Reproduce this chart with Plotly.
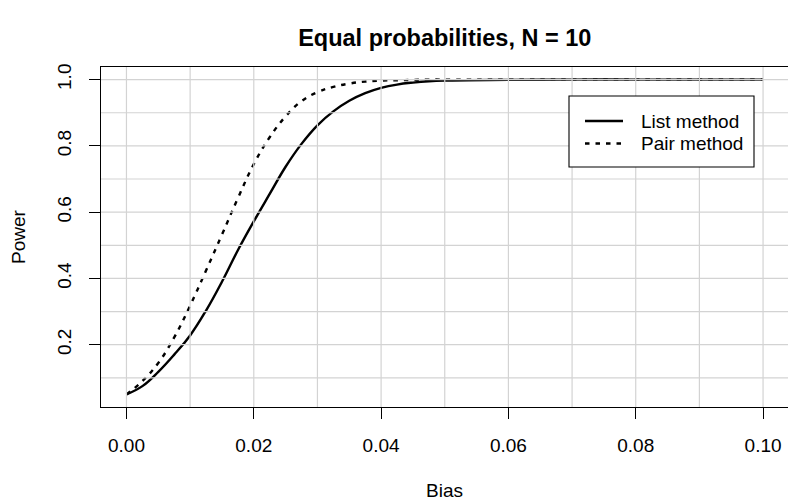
import plotly.graph_objects as go

# ---- data ----
bias = [0.0, 0.0025, 0.005, 0.0075, 0.01, 0.0125, 0.015, 0.0175, 0.02, 0.0225,
        0.025, 0.0275, 0.03, 0.0325, 0.035, 0.0375, 0.04, 0.0425, 0.045, 0.0475,
        0.05, 0.06, 0.07, 0.08, 0.09, 0.10]
list_power = [0.05, 0.075, 0.118, 0.17, 0.228, 0.303, 0.39, 0.485, 0.572, 0.655,
              0.737, 0.806, 0.862, 0.904, 0.936, 0.959, 0.975, 0.985, 0.991, 0.995,
              0.997, 0.999, 1.0, 1.0, 1.0, 1.0]
pair_power = [0.05, 0.09, 0.145, 0.222, 0.318, 0.424, 0.532, 0.642, 0.745, 0.826,
              0.889, 0.935, 0.962, 0.978, 0.988, 0.994, 0.997, 0.998, 0.999, 1.0,
              1.0, 1.0, 1.0, 1.0, 1.0, 1.0]
series_names = ["List method", "Pair method"]

x_ticks = [0.00, 0.02, 0.04, 0.06, 0.08, 0.10]
x_tick_labels = ["0.00", "0.02", "0.04", "0.06", "0.08", "0.10"]
y_ticks = [0.2, 0.4, 0.6, 0.8, 1.0]
y_tick_labels = ["0.2", "0.4", "0.6", "0.8", "1.0"]
x_grid = [0.00, 0.01, 0.02, 0.03, 0.04, 0.05, 0.06, 0.07, 0.08, 0.09, 0.10]
y_grid = [0.1, 0.2, 0.3, 0.4, 0.5, 0.6, 0.7, 0.8, 0.9, 1.0]

FONT = "Liberation Sans, Arial, Helvetica, sans-serif"
GRID_COLOR = "#d3d3d3"
DASH = "4.5px,6px"
W, H = 788, 502
ML, MR, MT, MB = 101, 0, 67, 95
PW, PH = W - ML - MR, H - MT - MB


def px_to_paper(px, py):
    return (px - ML) / PW, (H - MB - py) / PH


fig = go.Figure()
fig.add_trace(go.Scatter(
    x=bias, y=list_power, mode="lines", name=series_names[0], showlegend=False,
    line=dict(color="black", width=2.4, shape="spline", smoothing=1.2)))
fig.add_trace(go.Scatter(
    x=bias, y=pair_power, mode="lines", name=series_names[1], showlegend=False,
    line=dict(color="black", width=2.4, dash=DASH, shape="spline", smoothing=1.2)))

shapes = []
for gx in x_grid:
    shapes.append(dict(type="line", xref="x", yref="y domain", x0=gx, x1=gx, y0=0, y1=1,
                       line=dict(color=GRID_COLOR, width=1.2), layer="above"))
for gy in y_grid:
    shapes.append(dict(type="line", xref="x domain", yref="y", x0=0, x1=1, y0=gy, y1=gy,
                       line=dict(color=GRID_COLOR, width=1.2), layer="above"))

# legend box drawn like R's legend()
bx0, by0 = px_to_paper(569, 167)
bx1, by1 = px_to_paper(754, 96)
shapes.append(dict(type="rect", xref="paper", yref="paper", x0=bx0, x1=bx1, y0=by0, y1=by1,
                   fillcolor="white", line=dict(color="black", width=1.1), layer="above"))
annotations = []
row_y = [121, 143.5]
dashes = ["solid", DASH]
for name, ry, dsh in zip(series_names, row_y, dashes):
    lx0, ly = px_to_paper(585, ry)
    lx1, _ = px_to_paper(623, ry)
    shapes.append(dict(type="line", xref="paper", yref="paper", x0=lx0, x1=lx1, y0=ly, y1=ly,
                       line=dict(color="black", width=2.4, dash=dsh), layer="above"))
    tx, _ = px_to_paper(639, ry)
    annotations.append(dict(text=name, xref="paper", yref="paper", x=tx, y=ly,
                            xanchor="left", yanchor="middle", showarrow=False,
                            font=dict(family=FONT, size=19, color="black")))

fig.update_layout(
    width=W, height=H,
    margin=dict(l=ML, r=MR, t=MT, b=MB, autoexpand=False),
    paper_bgcolor="white", plot_bgcolor="white",
    font=dict(family=FONT, size=19, color="black"),
    title=dict(text="<b>Equal probabilities, N = 10</b>", x=(101 + 788.5) / 2 / 788,
               xanchor="center", y=0.924, yanchor="middle", yref="container",
               font=dict(family=FONT, size=23.5, color="black")),
    shapes=shapes,
    annotations=annotations,
    showlegend=False,
    xaxis=dict(range=[-0.004, 0.10392], tickvals=x_ticks, ticktext=x_tick_labels,
               showgrid=False, zeroline=False, showline=True, mirror=True,
               linecolor="black", linewidth=1.2, ticks="outside", ticklen=11,
               tickwidth=1.2, tickcolor="black", ticklabelstandoff=10, automargin=False,
               title=dict(text="Bias", standoff=28, font=dict(size=19))),
    yaxis=dict(range=[0.012, 1.038], tickvals=y_ticks, ticktext=y_tick_labels,
               showgrid=False, zeroline=False, showline=True, mirror=False,
               linecolor="black", linewidth=1.2, ticks="outside", ticklen=11,
               tickwidth=1.2, tickcolor="black", tickangle=-90, ticklabelstandoff=10,
               automargin=False,
               title=dict(text="Power", standoff=23, font=dict(size=19))),
)

fig.write_html("out.html",
               config={"displayModeBar": False},
               post_script="document.body.style.margin='0';document.body.style.padding='0';")
